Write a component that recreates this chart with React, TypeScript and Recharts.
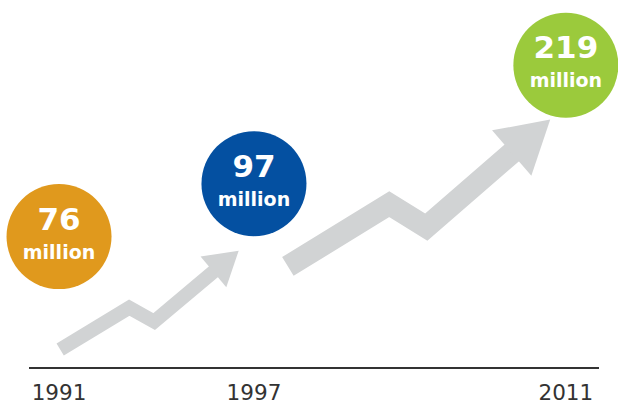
import React from 'react';
import { ComposedChart, Line, Scatter, XAxis, YAxis } from 'recharts';

// ---- data ----
const years = ['1991', '1997', '2011'];
const values = [76, 97, 219];
const unitLabel = 'million';
// logical position of each year on the (non-uniform) timeline
const yearSlots = [0, 5, 13];
// vertical level of each bubble (0-100 scale)
const bubbleLevels = [35.7, 50.1, 82.3];
const bubbleColors = ['#E0991D', '#0450A1', '#9BCA3C'];

// zig-zag growth arrows (timeline position, level)
const arrow1X = [0.03, 1.8, 2.44, 3.98];
const arrow1Y = [5.0, 16.4, 12.6, 26.3];
const arrow2X = [5.87, 8.47, 9.42, 11.63];
const arrow2Y = [27.6, 44.5, 38.3, 58.6];

const arrowColor = '#D1D3D4';

const toRows = (xs: number[], ys: number[]) => xs.map((x, i) => ({ x, y: ys[i] }));
const arrow1 = toRows(arrow1X, arrow1Y);
const arrow2 = toRows(arrow2X, arrow2Y);
const bubbles = years.map((year, i) => ({
  x: yearSlots[i],
  y: bubbleLevels[i],
  value: values[i],
  year,
  color: bubbleColors[i],
}));

function makeArrowHead(count: number, len: number, width: number, color: string) {
  const pts: { cx: number; cy: number }[] = [];
  return (props: any) => {
    const { cx, cy, index } = props;
    pts[index] = { cx, cy };
    if (index !== count - 1 || !pts[index - 1]) return <g key={`d${index}`} />;
    const p = pts[index - 1];
    let dx = cx - p.cx;
    let dy = cy - p.cy;
    const d = Math.hypot(dx, dy) || 1;
    dx /= d;
    dy /= d;
    const nx = -dy;
    const ny = dx;
    const bx = cx - dx * 1;
    const by = cy - dy * 1;
    const tip = [cx + dx * len, cy + dy * len];
    const a = [bx + (nx * width) / 2, by + (ny * width) / 2];
    const b = [bx - (nx * width) / 2, by - (ny * width) / 2];
    return (
      <polygon
        key={`d${index}`}
        points={`${a[0]},${a[1]} ${tip[0]},${tip[1]} ${b[0]},${b[1]}`}
        fill={color}
      />
    );
  };
}

const Bubble = (props: any) => {
  const { cx, cy, payload } = props;
  return (
    <g>
      <circle cx={cx} cy={cy} r={52.5} fill={payload.color} />
      <text
        x={cx}
        y={cy - 7}
        textAnchor="middle"
        fill="#fff"
        fontFamily="'DejaVu Sans', sans-serif"
        fontWeight="bold"
        fontSize={31}
      >
        {payload.value}
      </text>
      <text
        x={cx}
        y={cy + 22}
        textAnchor="middle"
        fill="#fff"
        fontFamily="'DejaVu Sans', sans-serif"
        fontWeight="bold"
        fontSize={19}
      >
        {unitLabel}
      </text>
    </g>
  );
};

export default function App() {
  return (
    <div style={{ position: 'absolute', left: 0, top: 0, fontFamily: "'DejaVu Sans', sans-serif" }}>
      <ComposedChart width={618} height={405} margin={{ top: 0, right: 19, bottom: 0, left: 29 }}>
        <XAxis
          type="number"
          dataKey="x"
          domain={[-0.77, 13.85]}
          ticks={yearSlots}
          interval={0}
          tickFormatter={(v: number) => years[yearSlots.indexOf(v)] ?? ''}
          height={37}
          tickLine={false}
          tickMargin={11}
          axisLine={{ stroke: '#333333', strokeWidth: 2 }}
          tick={{ fill: '#333333', fontSize: 21.5, fontFamily: "'DejaVu Sans', sans-serif" }}
        />
        <YAxis type="number" dataKey="y" domain={[0, 100]} hide />
        <Line
          data={arrow1}
          dataKey="y"
          type="linear"
          stroke={arrowColor}
          strokeWidth={14}
          strokeLinejoin="miter"
          strokeLinecap="butt"
          dot={makeArrowHead(arrow1.length, 32, 40, arrowColor)}
          activeDot={false}
          isAnimationActive={false}
        />
        <Line
          data={arrow2}
          dataKey="y"
          type="linear"
          stroke={arrowColor}
          strokeWidth={22}
          strokeLinejoin="miter"
          strokeLinecap="butt"
          dot={makeArrowHead(arrow2.length, 50, 60, arrowColor)}
          activeDot={false}
          isAnimationActive={false}
        />
        <Scatter data={bubbles} shape={<Bubble />} isAnimationActive={false} />
      </ComposedChart>
    </div>
  );
}
